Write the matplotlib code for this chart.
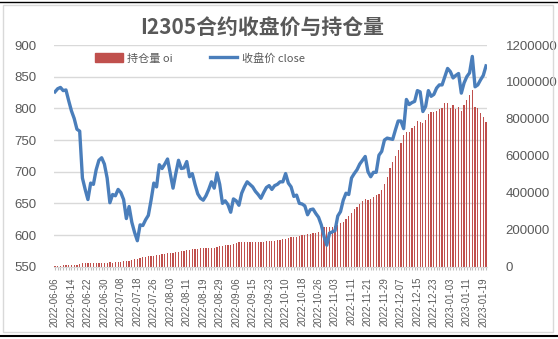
import pandas as pd
import matplotlib
matplotlib.use("Agg")
import matplotlib.pyplot as plt
from matplotlib.transforms import blended_transform_factory
from matplotlib.patches import Rectangle, Patch
from matplotlib.lines import Line2D

# trading calendar (CN futures), holidays removed
holidays = ["2022-09-12", "2022-10-03", "2022-10-04", "2022-10-05",
            "2022-10-06", "2022-10-07", "2023-01-02"]
dates = pd.bdate_range("2022-06-06", "2023-01-20", freq="C", holidays=holidays)
date_labels = [d.strftime("%Y-%m-%d") for d in dates]

close = [
    826, 831, 833, 828, 829, 812, 796, 784, 767, 764,
    690, 672, 656, 682, 680, 703, 718, 722, 712, 690,
    651, 664, 662, 672, 667, 656, 626, 645, 620, 604,
    591, 616, 615, 624, 631, 655, 682, 676, 711, 705,
    712, 720, 697, 674, 697, 718, 705, 706, 716, 692,
    697, 680, 665, 658, 655, 662, 672, 684, 674, 698,
    680, 650, 654, 648, 636, 657, 654, 647, 666, 676,
    684, 680, 676, 669, 664, 658, 667, 675, 678, 672,
    678, 680, 684, 684, 697, 682, 676, 661, 663, 650,
    649, 646, 632, 640, 641, 634, 628, 616, 598, 584,
    603, 605, 607, 630, 637, 655, 666, 664, 690, 697,
    703, 712, 718, 724, 700, 692, 699, 699, 726, 732,
    750, 753, 752, 751, 766, 780, 780, 768, 814, 806,
    809, 811, 828, 826, 795, 803, 828, 819, 822, 832,
    837, 837, 850, 863, 858, 848, 852, 855, 824, 840,
    850, 856, 882, 834, 837, 845, 852, 867,
]

oi = [
    3000, 4000, 5000, 8000, 8000, 9000, 9000, 9000, 10000, 16000,
    18000, 18000, 19000, 18000, 19000, 19000, 20000, 20000, 22000, 22000,
    23000, 22000, 24000, 24000, 26000, 30000, 32000, 33000, 36000, 40000,
    42000, 45000, 52000, 55000, 57000, 58000, 60000, 62000, 66000, 68000,
    70000, 72000, 74000, 76000, 80000, 82000, 84000, 86000, 90000, 92000,
    94000, 96000, 98000, 99000, 99000, 100000, 100000, 101000, 103000, 105000,
    110000, 114000, 117000, 118000, 120000, 125000, 130000, 133000, 134000, 133000,
    134000, 135000, 134000, 133000, 134000, 134000, 135000, 137000, 138000, 140000,
    141000, 142000, 146000, 148000, 152000, 155000, 160000, 162000, 163000, 165000,
    170000, 174000, 177000, 178000, 182000, 185000, 188000, 198000, 214000, 216000,
    217000, 216000, 218000, 225000, 234000, 240000, 256000, 272000, 290000, 310000,
    325000, 338000, 355000, 365000, 362000, 368000, 378000, 386000, 395000, 415000,
    450000, 487000, 533000, 568000, 599000, 632000, 668000, 713000, 728000, 731000,
    749000, 762000, 790000, 785000, 776000, 794000, 826000, 839000, 838000, 844000,
    852000, 857000, 884000, 884000, 857000, 875000, 852000, 866000, 844000, 875000,
    902000, 929000, 956000, 866000, 857000, 834000, 812000, 785000,
]

left_ticks = list(range(550, 901, 50))
right_ticks = list(range(0, 1200001, 200000))

assert len(close) == len(oi) == len(date_labels)
n = len(close)
x = list(range(n))

GREY = "#595959"
plt.rcParams["font.family"] = ["Liberation Sans", "Noto Sans CJK SC"]

fig = plt.figure(figsize=(5.58, 3.39), dpi=100)
W, H = 558, 339
ax = fig.add_axes([53.6 / W, 1 - 266.7 / H, 433.8 / W, 221.7 / H])
ax2 = ax.twinx()

# bars on the secondary axis, drawn below the line
ax2.bar(x, oi, width=0.45, color="#C0504D", zorder=2)
ax2.set_ylim(0, 1200000)
ax2.set_yticks(right_ticks)
ax2.set_yticklabels([str(t) for t in right_ticks])

# gridlines in ax2 (under bars) positioned by the left axis scale
tr = blended_transform_factory(ax2.transAxes, ax.transData)
for v in left_ticks[1:]:
    ax2.plot([0, 1], [v, v], transform=tr, color="#D9D9D9", lw=1.0, zorder=0)

ax.set_zorder(ax2.get_zorder() + 1)
ax.patch.set_visible(False)
ax.plot(x, close, color="#4A7EBB", lw=2.4, zorder=3, solid_joinstyle="round")
ax.set_ylim(550, 900)
ax.set_yticks(left_ticks)
ax.set_xlim(-0.5, n - 0.5)
ax.set_xticks(x)
ax.set_xticklabels([d if i % 6 == 0 else "" for i, d in enumerate(date_labels)],
                   rotation=90, fontsize=6.9, color=GREY)

for a in (ax, ax2):
    for s in a.spines.values():
        s.set_visible(False)
ax.spines["bottom"].set_visible(True)
ax.spines["bottom"].set_color("#D9D9D9")
ax.tick_params(axis="x", length=2.5, color="#BFBFBF", pad=5)
ax.tick_params(axis="y", length=0, labelsize=9.5, labelcolor=GREY, pad=12)
ax2.tick_params(axis="y", length=0, labelsize=9.5, labelcolor=GREY, pad=13)

fig.text(262 / W, 1 - 28 / H, "I2305合约收盘价与持仓量", ha="center", va="center",
         fontsize=15, fontweight="bold", color=GREY,
         family=["Noto Sans CJK SC", "DejaVu Sans"])

handles = [Patch(color="#C0504D"), Line2D([0], [0], color="#4A7EBB", lw=2.4)]
leg = ax.legend(handles, ["持仓量 oi", "收盘价 close"], loc="center left",
                bbox_to_anchor=(0.085, 0.94), ncol=2, frameon=False,
                prop={"family": ["Noto Sans CJK SC", "DejaVu Sans"], "size": 8},
                handlelength=2.5, handleheight=0.9, handletextpad=0.4,
                columnspacing=3.3, borderaxespad=0)
for t in leg.get_texts():
    t.set_color(GREY)

# chart frame like the source screenshot
fig.add_artist(Rectangle((3 / W, 1 - 332 / H), 550 / W, 327 / H,
                         transform=fig.transFigure, fill=False,
                         edgecolor="#D9D9D9", lw=1))
fig.add_artist(Line2D([0, 1], [1 - 2 / H, 1 - 2 / H], transform=fig.transFigure,
                      color="black", lw=1))
fig.add_artist(Line2D([0, 1], [1 - 335.5 / H, 1 - 335.5 / H],
                      transform=fig.transFigure, color="black", lw=1.5))

fig.savefig("out.png", dpi=100)
